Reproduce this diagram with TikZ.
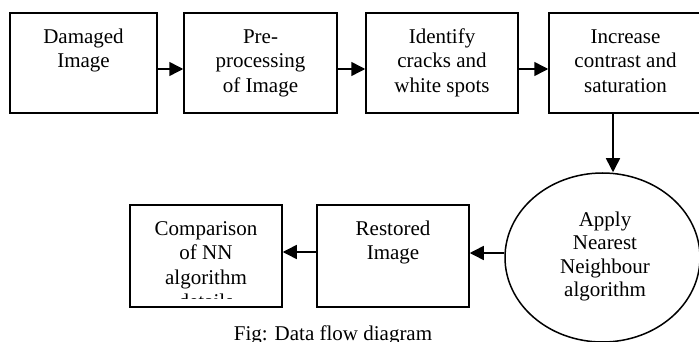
\documentclass[tikz,border=0pt]{standalone}
\usepackage{fontspec}
\setmainfont{Liberation Serif}
\usetikzlibrary{shapes.geometric,arrows.meta}
\begin{document}
\begin{tikzpicture}[x=1pt,y=-1pt,
  procbox/.style={draw,line width=1.5pt,minimum width=#1,minimum height=100pt,inner sep=0pt},
  lowbox/.style={draw,line width=1.5pt,minimum width=#1,minimum height=102pt,inner sep=0pt},
  txt/.style={align=center,inner sep=0pt,anchor=north,font=\fontsize{21}{24.5}\selectfont},
  flow/.style={line width=1.5pt,-{Triangle[length=14pt,width=14pt]}}]
\useasboundingbox (0,0) rectangle (699,342);

% top row of processing steps
\node[procbox=147pt] (b1) at (83.5,63) {};
\node[procbox=153pt] (b2) at (260.5,63) {};
\node[procbox=152pt] (b3) at (442,63) {};
\node[procbox=153pt] (b4) at (625.5,63) {};

\node[txt] (t1) at (83.5,25.85) {\strut Damaged\\Image};
\node[txt] (t2) at (260.5,25.85) {\strut Pre-\\processing\\of Image};
\node[txt] (t3) at (442,25.85) {\strut Identify\\cracks and\\white spots};
\node[txt] (t4) at (625.5,25.85) {\strut Increase\\contrast and\\saturation};

% nearest neighbour step
\node[draw,ellipse,line width=1.5pt,minimum width=195pt,minimum height=169pt,inner sep=0pt]
  (ell) at (602.5,257.5) {};
\node[txt,font=\fontsize{21}{23.4}\selectfont] (te) at (605,209.85)
  {\strut Apply\\Nearest\\Neighbour\\algorithm};

% bottom row
\node[lowbox=152pt] (rest) at (393,256) {};
\node[lowbox=152pt] (cmp) at (206,256) {};
\node[txt] (tr) at (393,217.85) {\strut Restored\\Image};
\node[txt] (tc) at (206,217.85) {\strut Comparison\\of NN\\algorithm};
\begin{scope}
  \clip (130,280) rectangle (282,298);
  \node[txt] (tc4) at (206,291.35) {\strut details};
\end{scope}

% connector end points
\coordinate (ra) at ([yshift=3pt]rest.east);
\coordinate (va) at ([xshift=-12.5pt]b4.south);

% connectors
\draw[flow] ([yshift=-6pt]b1.east) -- ([yshift=-6pt]b2.west);
\draw[flow] ([yshift=-6pt]b2.east) -- ([yshift=-6pt]b3.west);
\draw[flow] ([yshift=-6pt]b3.east) -- ([yshift=-6pt]b4.west);
\draw[flow] (va) -- (va |- ell.north);
\draw[flow] (ell.west |- ra) -- (ra);
\draw[flow] ([yshift=4pt]rest.west) -- ([yshift=4pt]cmp.east);

% caption
\node[anchor=base,inner sep=0pt,font=\fontsize{21}{24.5}\selectfont] (cap) at (333,340)
  {Fig: Data flow diagram};
\end{tikzpicture}
\end{document}
